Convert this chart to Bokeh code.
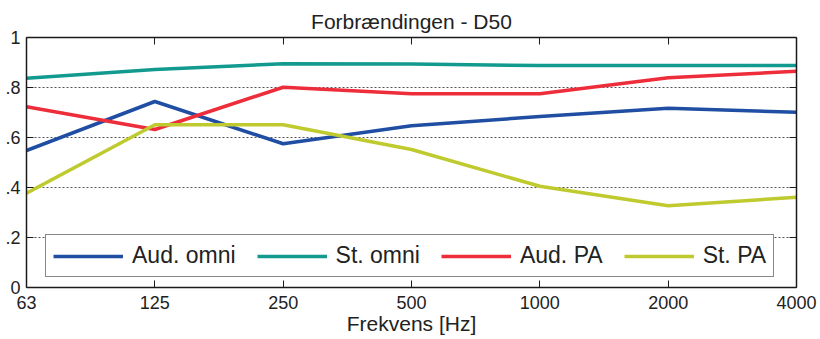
from bokeh.plotting import figure
from bokeh.models import (LinearAxis, FixedTicker, CustomJSTickFormatter, Legend,
                          LegendItem, Range1d)
from bokeh.embed import file_html
from bokeh.resources import INLINE

# ---- data ----
freq_labels = ["63", "125", "250", "500", "1000", "2000", "4000"]
aud_omni = [0.548, 0.744, 0.575, 0.647, 0.684, 0.717, 0.701]
st_omni = [0.837, 0.872, 0.895, 0.894, 0.888, 0.888, 0.888]
aud_pa = [0.723, 0.632, 0.801, 0.775, 0.775, 0.839, 0.865]
st_pa = [0.377, 0.651, 0.651, 0.552, 0.405, 0.327, 0.361]
series_names = ["Aud. omni", "St. omni", "Aud. PA", "St. PA"]
series_colors = ["#1f4ea3", "#139a8f", "#ee2d3a", "#bfca2e"]
y_ticks = [0, 0.2, 0.4, 0.6, 0.8, 1]
y_tick_labels = ["0", ".2", ".4", ".6", ".8", "1"]
grid_ticks = [0.2, 0.4, 0.6, 0.8]

x = list(range(len(freq_labels)))
FONT = "Liberation Sans"
TXT = "#222222"

p = figure(width=820, height=339, output_backend="svg", toolbar_location=None,
           x_range=Range1d(0, len(freq_labels) - 1), y_range=Range1d(0, 1),
           min_border_left=26, min_border_right=24, min_border_top=37,
           min_border_bottom=52)
p.background_fill_color = "white"
p.border_fill_color = "white"
p.outline_line_color = None

x_fmt = CustomJSTickFormatter(args=dict(xlabels=freq_labels),
                              code="return xlabels[Math.round(tick)];")
y_fmt = CustomJSTickFormatter(args=dict(yvals=y_ticks, ylabels=y_tick_labels),
                              code="""
for (let i = 0; i < yvals.length; i++) { if (Math.abs(yvals[i] - tick) < 1e-6) return ylabels[i]; }
return '';""")
empty_fmt = CustomJSTickFormatter(code="return '';")


def style_axis(ax):
    ax.major_tick_in = 7
    ax.major_tick_out = 0
    ax.minor_tick_in = 0
    ax.minor_tick_out = 0
    ax.axis_line_color = "#1a1a1a"
    ax.axis_line_width = 1.5
    ax.major_tick_line_color = "#1a1a1a"
    ax.major_tick_line_width = 1
    ax.major_label_text_font = FONT
    ax.major_label_text_color = TXT


xa = p.xaxis[0]
xa.ticker = FixedTicker(ticks=x)
xa.formatter = x_fmt
style_axis(xa)
xa.major_label_text_font_size = "18px"
xa.major_label_standoff = 8
xa.axis_label = "Frekvens [Hz]"
xa.axis_label_text_font = FONT
xa.axis_label_text_font_size = "21px"
xa.axis_label_text_font_style = "normal"
xa.axis_label_text_color = TXT
xa.axis_label_standoff = 0

ya = p.yaxis[0]
ya.ticker = FixedTicker(ticks=y_ticks)
ya.formatter = y_fmt
style_axis(ya)
ya.major_label_text_font_size = "18px"
ya.major_label_standoff = 6

top = LinearAxis(ticker=FixedTicker(ticks=x), formatter=empty_fmt)
style_axis(top)
top.major_label_text_font_size = "0px"
top.major_label_standoff = 0
p.add_layout(top, "above")

right = LinearAxis(ticker=FixedTicker(ticks=y_ticks), formatter=empty_fmt)
style_axis(right)
right.major_label_text_font_size = "0px"
right.major_label_standoff = 0
p.add_layout(right, "right")

p.xgrid.visible = False
p.ygrid.ticker = FixedTicker(ticks=grid_ticks)
p.ygrid.grid_line_color = "#555555"
p.ygrid.grid_line_dash = "2 2"
p.ygrid.grid_line_width = 1

renderers = []
for vals, col in zip([aud_omni, st_omni, aud_pa, st_pa], series_colors):
    r = p.line(x, vals, line_color=col, line_width=3.5, line_join="round")
    renderers.append(r)

legend = Legend(items=[LegendItem(label=n, renderers=[r]) for n, r in zip(series_names, renderers)],
                orientation="horizontal", location=(19, 10),
                glyph_width=70, glyph_height=18, label_height=18, label_standoff=9,
                spacing=21, padding=7, margin=0,
                border_line_color="#111111", border_line_width=1.5,
                background_fill_color="white", background_fill_alpha=1,
                label_text_font=FONT, label_text_font_size="23px", label_text_color=TXT)
p.add_layout(legend)

p.title.text = "Forbrændingen - D50"
p.title.align = "center"
p.title.text_font = FONT
p.title.text_font_size = "21px"
p.title.text_font_style = "normal"
p.title.text_color = TXT

open("out.html", "w").write(file_html(p, INLINE))
